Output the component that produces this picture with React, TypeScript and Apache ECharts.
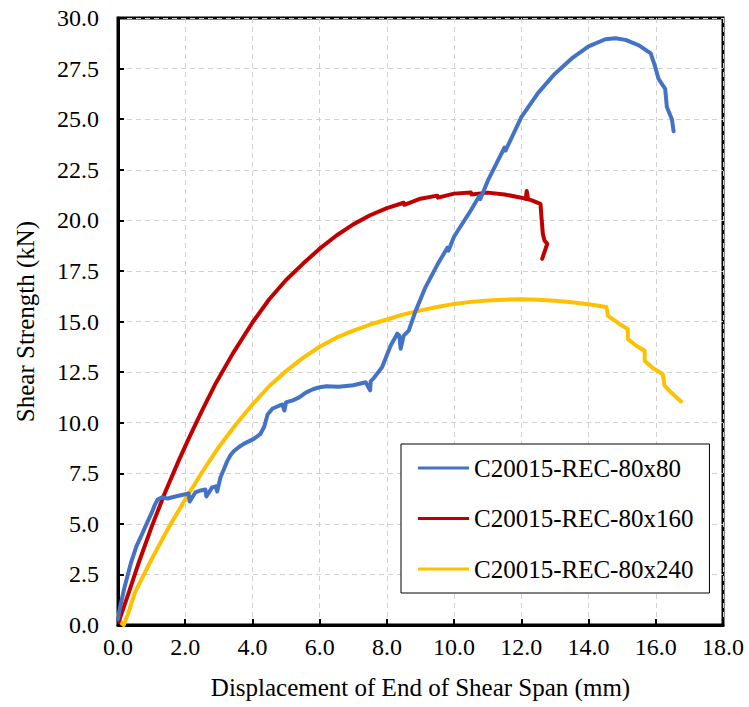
import React, { useEffect, useRef } from "react";
import * as echarts from "echarts";

// Displacement of end of shear span (mm) and shear strength (kN) for each specimen
const rec80x80Disp = [
  0.0, 0.05, 0.2, 0.39, 0.55, 0.69, 0.85, 0.99, 1.1, 1.18, 1.3, 1.48, 1.7, 1.97, 2.1, 2.13, 2.3, 2.46,
  2.6, 2.63, 2.8, 2.91, 2.95, 3.05, 3.15, 3.25, 3.35, 3.45, 3.6, 3.74, 4.04, 4.24, 4.35, 4.45, 4.6,
  4.89, 4.95, 5.0, 5.2, 5.39, 5.6, 5.8, 6.0, 6.2, 6.57, 7.0, 7.37, 7.5, 7.52, 7.61, 7.86, 8.11, 8.31,
  8.37, 8.41, 8.5, 8.65, 8.85, 9.15, 9.5, 9.8, 9.83, 10.0, 10.5, 10.75, 10.78, 11.0, 11.5, 11.53,
  12.0, 12.5, 13.0, 13.5, 14.0, 14.5, 14.8, 15.1, 15.5, 15.85, 15.98, 16.08, 16.2, 16.28, 16.33,
  16.48, 16.53,
];
const rec80x80Shear = [
  0.3, 0.8, 1.9, 3.1, 3.9, 4.4, 5.0, 5.5, 5.95, 6.2, 6.3, 6.25, 6.35, 6.45, 6.5, 6.1, 6.55, 6.65,
  6.7, 6.35, 6.8, 6.85, 6.6, 7.3, 7.7, 8.1, 8.4, 8.6, 8.8, 8.95, 9.2, 9.45, 9.8, 10.4, 10.7,
  10.9, 10.6, 11.0, 11.1, 11.25, 11.5, 11.65, 11.75, 11.8, 11.77, 11.85, 12.0, 11.6, 12.05, 12.2,
  12.75, 13.8, 14.4, 14.3, 13.65, 14.3, 14.55, 15.5, 16.7, 17.8, 18.65, 18.5, 19.2, 20.5, 21.2,
  21.05, 21.95, 23.6, 23.45, 25.1, 26.3, 27.25, 28.0, 28.6, 28.95, 29.0, 28.92, 28.65, 28.25, 27.6,
  27.0, 26.7, 26.5, 25.6, 25.0, 24.4,
];

const rec80x160Disp = [
  0.02, 0.3, 0.6, 1.0, 1.4, 1.8, 2.1, 2.5, 2.91, 3.41, 4.0, 4.5, 5.0, 5.5, 6.0, 6.5, 7.0, 7.5, 8.0,
  8.5, 8.52, 9.0, 9.5, 9.52, 10.0, 10.5, 10.52, 11.0, 11.5, 12.0, 12.13, 12.16, 12.2, 12.33, 12.57,
  12.6, 12.64, 12.69, 12.77, 12.72, 12.62,
];
const rec80x160Shear = [
  0.15, 1.5, 3.0, 4.85, 6.55, 8.1, 9.2, 10.6, 11.95, 13.4, 14.95, 16.1, 17.05, 17.85, 18.6, 19.25,
  19.8, 20.25, 20.6, 20.87, 20.77, 21.07, 21.22, 21.12, 21.32, 21.37, 21.28, 21.37, 21.28, 21.12,
  21.06, 21.45, 21.05, 20.97, 20.81, 20.15, 19.33, 19.0, 18.84, 18.59, 18.1,
];

const rec80x240Disp = [
  0.0, 0.1, 0.17, 0.3, 0.5, 1.0, 1.5, 2.0, 2.5, 3.0, 3.5, 4.0, 4.5, 5.0, 5.5, 6.0, 6.5, 7.0, 7.5,
  8.0, 8.5, 9.0, 9.5, 10.0, 10.5, 11.0, 11.5, 12.0, 12.5, 13.0, 13.5, 14.0, 14.53, 14.58, 14.93,
  15.17, 15.17, 15.42, 15.67, 15.67, 15.91, 16.21, 16.26, 16.45, 16.75,
];
const rec80x240Shear = [
  0.5, 0.1, 0.0, 0.55, 1.6, 3.25, 4.8, 6.2, 7.55, 8.8, 9.9, 10.9, 11.8, 12.55, 13.2, 13.75, 14.2,
  14.55, 14.85, 15.1, 15.35, 15.55, 15.72, 15.87, 15.97, 16.04, 16.08, 16.1, 16.08, 16.03, 15.95,
  15.85, 15.72, 15.28, 14.87, 14.62, 14.13, 13.8, 13.55, 13.06, 12.7, 12.4, 11.83, 11.5, 11.05,
];

const seriesNames = ["C20015-REC-80x80", "C20015-REC-80x160", "C20015-REC-80x240"];
const seriesColors = ["#4472C4", "#C00000", "#FFC000"];
const xTicks = { min: 0, max: 18, interval: 2 };
const yTicks = { min: 0, max: 30, interval: 2.5 };

const FONT = "Liberation Serif";

const zip = (xs: number[], ys: number[]) => xs.map((x, i) => [x, ys[i]]);

export default function App() {
  const ref = useRef<HTMLDivElement>(null);

  useEffect(() => {
    if (!ref.current) return;
    const chart = echarts.init(ref.current, undefined, { renderer: "svg" });
    const curves = [
      zip(rec80x80Disp, rec80x80Shear),
      zip(rec80x160Disp, rec80x160Shear),
      zip(rec80x240Disp, rec80x240Shear),
    ];

    const axisCommon = {
      type: "value" as const,
      axisLine: { show: true, onZero: false, lineStyle: { color: "#000", width: 3 } },
      axisTick: { show: true, inside: true, length: 6, lineStyle: { color: "#000", width: 2 } },
      splitLine: {
        show: true,
        lineStyle: { color: "#d0d0d0", width: 1, type: [5, 4] as any },
      },
      nameTextStyle: { fontFamily: FONT, fontSize: 25, color: "#000" },
    };

    chart.setOption({
      animation: false,
      backgroundColor: "#fff",
      textStyle: { fontFamily: FONT },
      grid: {
        left: 118,
        right: 26,
        top: 18,
        bottom: 82,
        show: true,
        borderColor: "#000",
        borderWidth: 3,
        backgroundColor: "transparent",
      },
      xAxis: {
        ...axisCommon,
        min: xTicks.min,
        max: xTicks.max,
        interval: xTicks.interval,
        name: "Displacement of End of Shear Span (mm)",
        nameLocation: "middle",
        nameGap: 50,
        axisLabel: {
          margin: 10,
          fontFamily: FONT,
          fontSize: 24,
          color: "#000",
          formatter: (v: number) => v.toFixed(1),
        },
      },
      yAxis: {
        ...axisCommon,
        min: yTicks.min,
        max: yTicks.max,
        interval: yTicks.interval,
        name: "Shear Strength (kN)",
        nameLocation: "middle",
        nameGap: 80,
        axisLabel: {
          margin: 19,
          fontFamily: FONT,
          fontSize: 24,
          color: "#000",
          formatter: (v: number) => v.toFixed(1),
        },
      },
      legend: {
        orient: "vertical",
        left: 401,
        top: 444,
        icon: "rect",
        itemWidth: 51,
        itemHeight: 3,
        itemGap: 24.5,
        padding: [11, 16, 11, 17],
        borderColor: "#000",
        borderWidth: 1,
        backgroundColor: "#fff",
        textStyle: { fontFamily: FONT, fontSize: 25, color: "#000", lineHeight: 26 },
        data: seriesNames,
      },
      series: seriesNames.map((name, i) => ({
        name,
        type: "line",
        data: curves[i],
        symbol: "none",
        showSymbol: false,
        color: seriesColors[i],
        lineStyle: { color: seriesColors[i], width: 4, join: "round", cap: "round" },
        z: 3 - i,
      })),
    });

    return () => chart.dispose();
  }, []);

  return (
    <div
      ref={ref}
      style={{ position: "fixed", left: 0, top: 0, width: 749, height: 707, background: "#fff" }}
    />
  );
}
